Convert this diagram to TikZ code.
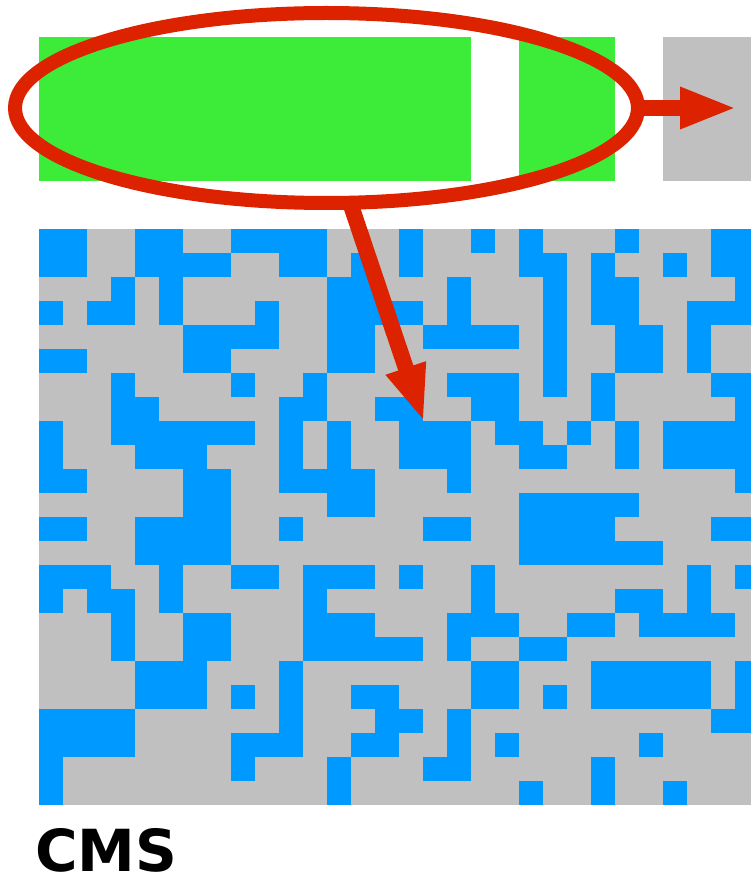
\documentclass[tikz,border=0pt]{standalone}
\usepackage{fontspec}
\newfontfamily\labelfont{DejaVu Sans}
\usetikzlibrary{arrows.meta,shapes.geometric}
\definecolor{cgreen}{HTML}{3DEB39}
\definecolor{cblue}{HTML}{0099FF}
\definecolor{cgray}{HTML}{C0C0C0}
\definecolor{cred}{HTML}{DD2200}
\begin{document}
\begin{tikzpicture}[x=1pt,y=-1pt,
  cell/.style={fill=cblue},
  selring/.style={ellipse,draw=cred,line width=14pt,minimum width=623pt,minimum height=190pt,inner sep=0pt,outer sep=0pt},
  redarrow/.style={draw=cred,line width=16pt,-{Triangle[length=57pt,width=38pt]}},
  title/.style={anchor=base west,inner sep=0pt,font=\labelfont\bfseries\fontsize{58}{60}\selectfont}
]
\useasboundingbox (0,0) rectangle (751,877);
\clip (0,0) rectangle (751,877);
% grid
\fill[cgray] (39,229) rectangle (759,805);
\foreach \r/\cs in {
 0/{0,1,4,5,8,9,10,11,15,18,20,24,28,29},
 1/{0,1,4,5,6,7,10,11,13,15,20,21,23,26,28,29},
 2/{3,5,12,13,17,21,23,24,29},
 3/{0,2,3,5,9,12,13,14,15,17,21,23,24,27,28,29},
 4/{6,7,8,9,12,13,16,17,18,19,21,24,25,27},
 5/{0,1,6,7,12,13,21,24,25,27},
 6/{3,8,11,17,18,19,21,23,28,29},
 7/{3,4,10,11,14,15,18,19,23,29},
 8/{0,3,4,5,6,7,8,10,12,15,16,17,19,20,22,24,26,27,28,29},
 9/{0,4,5,6,10,12,15,16,17,20,21,24,26,27,28,29},
 10/{0,1,6,7,10,11,12,13,17,29},
 11/{6,7,12,13,20,21,22,23,24},
 12/{0,1,4,5,6,7,10,16,17,20,21,22,23,28,29},
 13/{4,5,6,7,20,21,22,23,24,25},
 14/{0,1,2,5,8,9,11,12,13,15,18,27,29},
 15/{0,2,3,5,11,18,24,25,27},
 16/{3,6,7,11,12,13,17,18,19,22,23,25,26,27,28},
 17/{3,6,7,11,12,13,14,15,17,20,21},
 18/{4,5,6,10,18,19,23,24,25,26,27,29},
 19/{4,5,6,8,10,13,14,18,19,21,23,24,25,26,27,29},
 20/{0,1,2,3,10,14,15,17,28,29},
 21/{0,1,2,3,8,9,10,13,14,17,19,25},
 22/{0,8,12,16,17,23},
 23/{0,12,20,23,26}}
 {\foreach \c in \cs {\fill[cell] ({39+24*\c},{229+24*\r}) rectangle ++(24.3,24.3);}}
% top bar
\fill[cgreen] (39,37) rectangle (471,181);
\fill[cgreen] (519,37) rectangle (615,181);
\fill[cgray] (663,37) rectangle (759,181);
% selection ring and arrows
\node[selring] (sel) at (326.5,108) {};
\coordinate (rtip) at (737,108);
\coordinate (dtip) at (424,422);
\draw[redarrow] (sel.east) -- (rtip);
\draw[redarrow] (sel.-76) -- (dtip);
% label
\node[title] (cms) at (35,871) {CMS};
\end{tikzpicture}
\end{document}
